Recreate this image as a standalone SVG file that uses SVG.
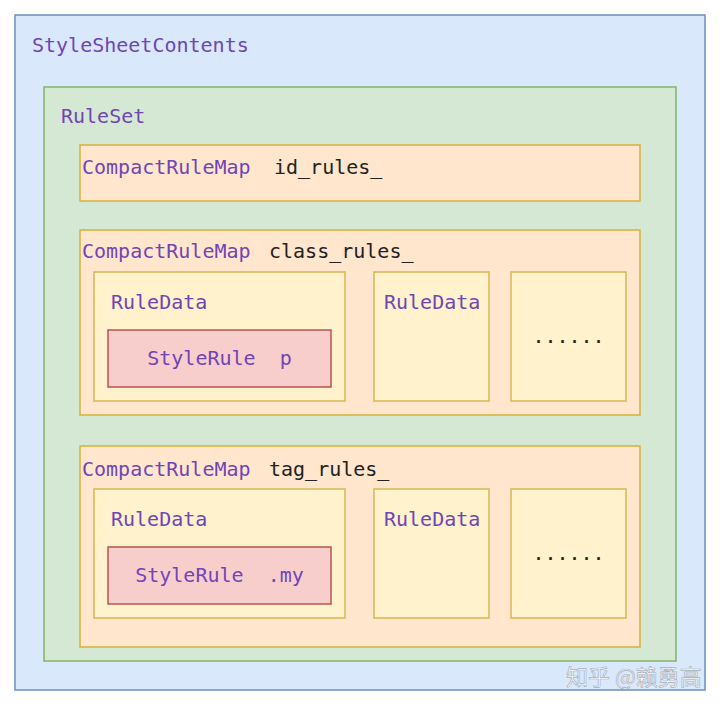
<svg xmlns="http://www.w3.org/2000/svg" width="720" height="706" viewBox="0 0 720 706">
<defs>
<style>
text{font-family:"DejaVu Sans Mono","Liberation Mono",monospace;font-size:20px}
.p{fill:#7045b5}
.k{fill:#222222}
.blue{fill:#dae8fc;stroke:#6c8ebf;stroke-width:1.5}
.green{fill:#d5e8d4;stroke:#82b366;stroke-width:1.5}
.map{fill:#ffe6cc;stroke:#d6b13a;stroke-width:1.5}
.data{fill:#fff2cc;stroke:#d6b656;stroke-width:1.5}
.rule{fill:#f8cecc;stroke:#b85450;stroke-width:1.5}
.wm{font-family:"Noto Sans CJK SC",sans-serif;font-size:22px;fill:#ffffff;stroke:#a8b0bc;stroke-width:0.7}
</style>
</defs>
<rect width="720" height="706" fill="#ffffff"/>
<g id="stylesheetcontents">
<rect class="blue" x="15" y="15" width="690" height="675"/>
<text class="p" x="32" y="52">StyleSheetContents</text>
</g>
<g id="ruleset">
<rect class="green" x="44" y="87" width="632" height="574"/>
<text class="p" x="61" y="123">RuleSet</text>
</g>
<g id="id_rules">
<rect class="map" x="80" y="145" width="560" height="56"/>
<text class="p" x="82" y="174">CompactRuleMap</text>
<text class="k" x="274" y="174">id_rules_</text>
</g>
<g id="class_rules">
<rect class="map" x="80" y="230" width="560" height="185"/>
<text class="p" x="82" y="258">CompactRuleMap</text>
<text class="k" x="269" y="258">class_rules_</text>
</g>
<g id="class_ruledata1">
<rect class="data" x="94" y="272" width="251" height="129"/>
<text class="p" x="111" y="309">RuleData</text>
</g>
<g id="class_stylerule">
<rect class="rule" x="108" y="330" width="223" height="57"/>
<text class="p" x="219.5" y="365" text-anchor="middle" xml:space="preserve">StyleRule  p</text>
</g>
<g id="class_ruledata2">
<rect class="data" x="374" y="272" width="115" height="129"/>
<text class="p" x="384" y="309">RuleData</text>
</g>
<g id="class_more">
<rect class="data" x="511" y="272" width="115" height="129"/>
<text class="k" x="568.5" y="343" text-anchor="middle">......</text>
</g>
<g id="tag_rules">
<rect class="map" x="80" y="446" width="560" height="201"/>
<text class="p" x="82" y="476">CompactRuleMap</text>
<text class="k" x="269" y="476">tag_rules_</text>
</g>
<g id="tag_ruledata1">
<rect class="data" x="94" y="489" width="251" height="129"/>
<text class="p" x="111" y="526">RuleData</text>
</g>
<g id="tag_stylerule">
<rect class="rule" x="108" y="547" width="223" height="57"/>
<text class="p" x="219.5" y="582" text-anchor="middle" xml:space="preserve">StyleRule  .my</text>
</g>
<g id="tag_ruledata2">
<rect class="data" x="374" y="489" width="115" height="129"/>
<text class="p" x="384" y="526">RuleData</text>
</g>
<g id="tag_more">
<rect class="data" x="511" y="489" width="115" height="129"/>
<text class="k" x="568.5" y="560" text-anchor="middle">......</text>
</g>
<g id="connectors"></g>
<text class="wm" x="566" y="685">知乎 @赖勇高</text>
</svg>
